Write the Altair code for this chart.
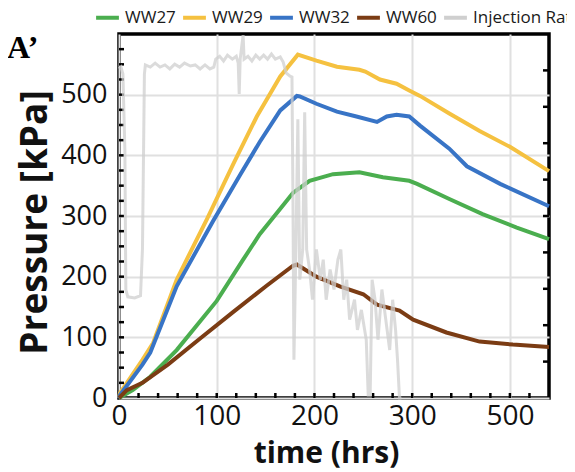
import altair as alt
import pandas as pd

# ---------------- data ----------------
series_names = ["WW27", "WW29", "WW32", "WW60", "Injection Rate"]
series_colors = ["#4bae4f", "#f5c140", "#3874c6", "#7b3c14", "#cfcfcf"]

ww27_t = [0, 14, 32, 59, 100, 127, 144, 157, 178, 195, 219, 246, 270, 297, 305, 338, 372, 407, 440]
ww27_p = [0, 13, 35, 79, 160, 228, 270, 296, 338, 358, 369, 372, 364, 358, 353, 328, 303, 281, 262]

ww29_t = [0, 1, 24, 35, 59, 90, 117, 141, 165, 183, 202, 223, 246, 252, 267, 284, 297, 308, 338, 369, 400, 440]
ww29_p = [0, 8, 63, 91, 195, 295, 386, 464, 530, 566, 556, 546, 541, 538, 525, 518, 507, 498, 469, 440, 414, 374]

ww32_t = [0, 1, 24, 32, 59, 96, 124, 144, 165, 182, 185, 202, 223, 243, 264, 274, 284, 297, 308, 338, 356, 390, 440]
ww32_p = [0, 5, 55, 75, 184, 291, 368, 422, 474, 498, 497, 485, 472, 464, 455, 464, 467, 464, 449, 411, 382, 353, 316]

ww60_t = [0, 8, 24, 50, 83, 117, 151, 178, 182, 202, 226, 250, 264, 287, 301, 335, 369, 403, 440]
ww60_p = [0, 13, 25, 55, 98, 142, 185, 218, 220, 200, 184, 171, 154, 144, 129, 108, 93, 88, 84]

inj_t = [0, 2, 4, 6, 7, 9, 16, 22, 24, 26, 27, 32, 37, 42, 47, 52, 57, 62, 67, 73, 78, 83, 88, 93, 97,
         99, 103, 107, 111, 116, 120, 122, 123, 124, 127, 128, 132, 136, 140, 144, 148, 152, 156, 160,
         165, 168, 171, 175, 177, 178, 179, 181, 183, 185, 188, 190, 192, 195, 198, 202, 206, 209, 212,
         216, 220, 224, 227, 230, 233, 236, 241, 244, 248, 253, 255, 257, 259, 262, 265, 269, 273, 277,
         280, 283, 285, 287, 289]
inj_r = [9.04, 9.09, 8.90, 6.83, 2.98, 2.78, 2.75, 2.81, 4.08, 8.90, 9.15, 9.09, 9.20, 9.09, 9.15,
         9.04, 9.17, 9.09, 9.20, 9.12, 9.15, 9.04, 9.15, 9.04, 9.09, 9.31, 9.39, 9.26, 9.42, 9.31, 9.39,
         9.20, 8.35, 9.31, 9.97, 9.31, 9.39, 9.26, 9.42, 9.31, 9.42, 9.31, 9.45, 9.31, 9.37, 9.23, 8.93,
         8.84, 8.82, 5.45, 1.05, 4.08, 7.66, 3.25, 4.08, 7.85, 4.08, 3.53, 2.70, 4.08, 3.25, 3.80, 2.70,
         3.53, 2.98, 3.80, 4.08, 2.70, 3.25, 2.15, 2.70, 1.87, 2.42, 1.60, 0.08, 0.08, 3.25, 2.70, 1.60,
         2.98, 2.15, 1.32, 2.70, 1.87, 1.05, 0.0, 0.0]

x_tick_values = [0, 100, 200, 300, 400]
x_tick_labels = ["0", "100", "200", "300", "500"]
y_tick_values = [0, 100, 200, 300, 400, 500]
x_minor = list(range(20, 440, 20))
y_minor = list(range(25, 600, 25))
r_minor = list(range(1, 10))
panel_letter = ["A\u2019"]

# ---------------- build tables ----------------
W, H = 430, 364

rows = []
for name, ts, ps in [("WW27", ww27_t, ww27_p), ("WW29", ww29_t, ww29_p),
                     ("WW32", ww32_t, ww32_p), ("WW60", ww60_t, ww60_p)]:
    for t, p in zip(ts, ps):
        rows.append({"series": name, "t": t, "p": p})
press = pd.DataFrame(rows)
inj = pd.DataFrame({"series": "Injection Rate", "t": inj_t, "r": inj_r})

label_expr = "datum.label"
for v, lab in zip(x_tick_values, x_tick_labels):
    label_expr = f"datum.value == {v} ? '{lab}' : ({label_expr})"

color = alt.Color(
    "series:N",
    scale=alt.Scale(domain=series_names, range=series_colors),
    sort=series_names,
    legend=alt.Legend(
        title=None, orient="none", legendX=-25, legendY=-30, direction="horizontal",
        symbolType="stroke", symbolStrokeWidth=4, symbolSize=520,
        labelFont="Open Sans", labelFontSize=17, labelFontWeight=500, labelColor="#1a1a1a",
        columnPadding=-1, labelOffset=4, padding=0, symbolOpacity=1, labelLimit=200,
    ),
)

x_enc = alt.X(
    "t:Q",
    scale=alt.Scale(domain=[0, 440], nice=False),
    axis=alt.Axis(
        values=x_tick_values, labelExpr=label_expr, title="time (hrs)",
        grid=True, gridColor="#e0e0e0", gridWidth=2, domain=False, ticks=False,
        labelFont="Open Sans", labelFontSize=28, labelFontWeight=500, labelColor="#111",
        labelPadding=4, labelFlush=False, labelOverlap=False,
        titleFont="Open Sans", titleFontSize=30, titleFontWeight="bold", titleColor="#111",
        titlePadding=8, titleX=207,
    ),
)
y_enc = alt.Y(
    "p:Q",
    scale=alt.Scale(domain=[0, 600], nice=False),
    axis=alt.Axis(
        values=y_tick_values, title="Pressure [kPa]",
        grid=True, gridColor="#e0e0e0", gridWidth=2, domain=False, ticks=False,
        labelFont="Open Sans", labelFontSize=27, labelFontWeight=500, labelColor="#111",
        labelPadding=12, labelOverlap=False,
        titleFont="Open Sans", titleFontSize=37, titleFontWeight="bold", titleColor="#111",
        titlePadding=6, titleY=188,
    ),
)
r_enc = alt.Y("r:Q", scale=alt.Scale(domain=[0, 10], nice=False), axis=None)

lines = alt.Chart(press).mark_line(strokeWidth=4).encode(
    x=x_enc, y=y_enc, color=color, detail="series:N",
)
bottom_ticks = alt.Chart(pd.DataFrame({"t": x_minor})).mark_rule(color="black", strokeWidth=2.5).encode(
    x=x_enc, y=alt.value(H), y2=alt.value(H - 5)
)
left_ticks = alt.Chart(pd.DataFrame({"p": y_minor})).mark_rule(color="black", strokeWidth=2.5).encode(
    y=y_enc, x=alt.value(0), x2=alt.value(5)
)
letter = alt.Chart(pd.DataFrame({"label": panel_letter})).mark_text(
    font="Liberation Serif", fontSize=32, fontWeight="bold", align="left", baseline="alphabetic", color="black"
).encode(x=alt.value(-112), y=alt.value(24), text="label:N")

left_group = alt.layer(lines, bottom_ticks, left_ticks, letter)

inj_line = alt.Chart(inj).mark_line(strokeWidth=3, opacity=0.75).encode(
    x=x_enc, y=r_enc, color=color,
)
right_ticks = alt.Chart(pd.DataFrame({"r": r_minor})).mark_rule(color="black", strokeWidth=2.5).encode(
    y=r_enc, x=alt.value(W), x2=alt.value(W - 6)
)
right_group = alt.layer(inj_line, right_ticks)

chart = alt.layer(left_group, right_group).resolve_scale(y="independent").properties(
    width=W, height=H,
    autosize=alt.AutoSizeParams(type="none"),
    padding={"left": 111, "top": 26, "right": 18, "bottom": 74},
    background="white",
).configure_view(stroke="black", strokeWidth=3.5)

chart.save("out.html", embed_options={"renderer": "svg", "actions": False})
